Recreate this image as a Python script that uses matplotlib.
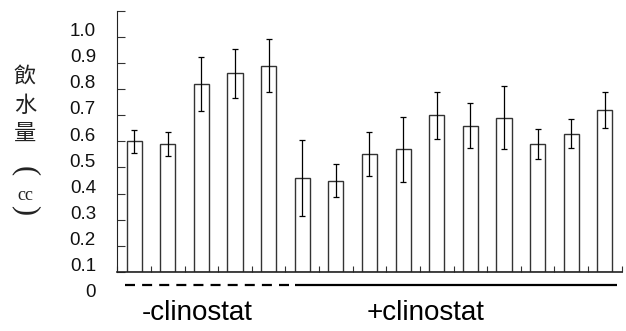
import numpy as np
import matplotlib
matplotlib.use("Agg")
import matplotlib.pyplot as plt
import matplotlib.transforms as mtransforms

# 飲水量 (cc), 15 個體: 前5個 -clinostat, 後10個 +clinostat
values = [0.58, 0.57, 0.80, 0.84, 0.87,
          0.44, 0.43, 0.53, 0.55, 0.68, 0.64, 0.67, 0.57, 0.61, 0.70]
errors = [0.044, 0.046, 0.102, 0.093, 0.103,
          0.147, 0.064, 0.084, 0.124, 0.090, 0.087, 0.120, 0.056, 0.054, 0.067]
ytick_labels = ["0", "0.1", "0.2", "0.3", "0.4", "0.5", "0.6", "0.7", "0.8", "0.9", "1.0"]
group_names = ["-clinostat", "+clinostat"]

base = 0.08  # 原圖的基線不在0
x = np.arange(len(values))

fig = plt.figure(figsize=(6.26, 3.31), dpi=100)
ax = fig.add_axes([0.1874, 0.1782, 0.8057, 0.7895])

h = np.array(values) - base
ax.bar(x, h, bottom=base, width=0.45, color="white", edgecolor="#333333", linewidth=1.0)
ax.errorbar(x, values, yerr=errors, fmt="none", ecolor="black", elinewidth=0.9,
            capsize=2.2, capthick=0.9)

ax.set_xlim(-0.5, len(values) - 0.5)
ax.set_ylim(base, base + 1.0)
for s in ["top", "right"]:
    ax.spines[s].set_visible(False)
ax.spines["left"].set_color("#222222")
ax.spines["bottom"].set_color("#222222")
ax.spines["bottom"].set_linewidth(1.2)

ax.set_xticks(np.arange(-0.5, len(values)))
ax.set_xticklabels([])
ax.tick_params(axis="x", direction="in", length=4, width=0.8, color="#333333")
ax.set_yticks(base + np.arange(11) * 0.1)
ax.set_yticklabels([])
ax.tick_params(axis="y", direction="in", length=6, width=0.8, color="#333333")

# 刻度文字 (與刻度線錯開，照原圖)
ytr = mtransforms.blended_transform_factory(fig.transFigure, ax.transData)
for i, lab in enumerate(ytick_labels):
    ax.text(96 / 626, i * 0.1, lab, transform=ytr, ha="right", va="center",
            fontsize=13.5, family="Liberation Sans", color="#111111", clip_on=False)

# 組別線
xtr = mtransforms.blended_transform_factory(ax.transData, ax.transAxes)
line_span = [(-0.27, 4.79), (4.79, 14.36)]
label_x = [1.88, 8.66]
for g, name in enumerate(group_names):
    x0, x1 = line_span[g]
    ax.plot([x0, x1], [-0.05, -0.05], transform=xtr, color="black", lw=1.6,
            ls=(0, (4.5, 3.2)) if g == 0 else "-", clip_on=False, solid_capstyle="butt",
            dash_capstyle="butt")
    ax.text(label_x[g], -0.155, name, transform=xtr, ha="center", va="center",
            fontsize=20, family="Liberation Sans", color="black", clip_on=False)

# 縱向 y 軸標題
ylab = [("飲", 76, 0), ("水", 105, 0), ("量", 133, 0), ("(", 171, -90), ("cc", 196, 0), (")", 210, -90)]
for ch, yy, rot in ylab:
    if ch in "()cc":
        fam = ["Liberation Serif"]
        fs = 13 if ch == "cc" else 22
    else:
        fam = ["Noto Sans CJK TC", "DejaVu Sans"]
        fs = 16
    fig.text(25 / 626, 1 - yy / 331, ch, ha="center", va="center", rotation=rot,
             rotation_mode="anchor", fontsize=fs, family=fam, color="#222222")

fig.savefig("out.png", dpi=100)
